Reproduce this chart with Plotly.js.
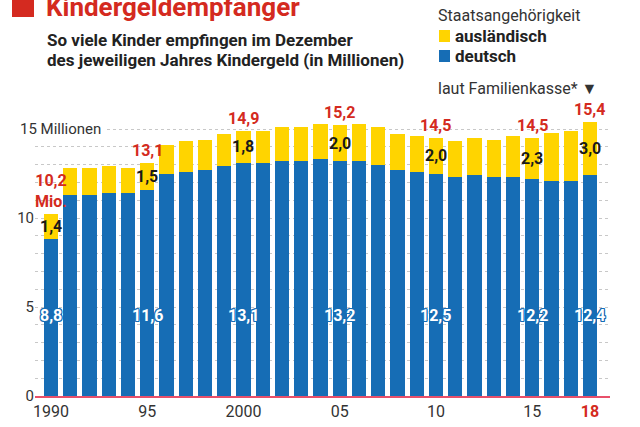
<!DOCTYPE html>
<html><head><meta charset="utf-8">
<script src="https://cdn.plot.ly/plotly-3.0.1.min.js"></script>
<style>html,body{margin:0;padding:0;background:#fff}#chart{width:640px;height:427px}</style>
</head><body><div id="chart"></div>
<script>
const years = [1990,1991,1992,1993,1994,1995,1996,1997,1998,1999,2000,2001,2002,2003,2004,2005,2006,2007,2008,2009,2010,2011,2012,2013,2014,2015,2016,2017,2018];
const deutsch = [8.8,11.3,11.3,11.4,11.4,11.6,12.5,12.6,12.7,12.9,13.1,13.1,13.2,13.2,13.3,13.2,13.2,13.0,12.7,12.6,12.5,12.3,12.4,12.3,12.3,12.2,12.1,12.1,12.4];
const auslaendisch = [1.4,1.5,1.5,1.5,1.4,1.5,1.6,1.7,1.7,1.8,1.8,1.8,1.9,1.9,2.0,2.0,2.1,2.1,2.0,2.0,2.0,2.0,2.1,2.1,2.3,2.3,2.65,2.8,3.0];
const seriesNames = ['deutsch', 'ausländisch'];
const labelYears = [1990,1995,2000,2005,2010,2015,2018];
const xTickVals = [1990,1995,2000,2005,2010,2015,2018];
const xTickText = ['1990','95','2000','05','10','15','<span style="color:#d42a20"><b>18</b></span>'];
const yTickVals = [0,5,10];
const yTickText = ['0','5','10'];

const BLUE = '#166db5', YELLOW = '#ffd400', RED = '#d42a20', DARK = '#222';
const FONT = 'Roboto, "Liberation Sans", sans-serif';
const W = 640, H = 427, L = 35, R = 30, T = 113, B = 31;
const PW = W - L - R, PH = H - T - B;
const px = x => (x - L) / PW;
const py = y => (H - B - y) / PH;
const fmt = v => v.toFixed(1).replace('.', ',');

const traces = [
  {type:'bar', name:seriesNames[0], x:years, y:deutsch, marker:{color:BLUE}, hoverinfo:'skip', showlegend:false},
  {type:'bar', name:seriesNames[1], x:years, y:auslaendisch, marker:{color:YELLOW}, hoverinfo:'skip', showlegend:false}
];

const ann = [];
const shapes = [];
// title
shapes.push({type:'rect', xref:'paper', yref:'paper', x0:px(12), x1:px(34), y0:py(17), y1:py(-2),
  fillcolor:RED, line:{width:0}, layer:'above'});
ann.push({xref:'paper', yref:'paper', x:px(44), y:py(7), xanchor:'left', yanchor:'middle', showarrow:false,
  text:'<b>Kindergeldempfänger</b>', font:{family:FONT, size:26, color:RED}});
ann.push({xref:'paper', yref:'paper', x:px(45), y:py(40), xanchor:'left', yanchor:'middle', showarrow:false,
  text:'<b>So viele Kinder empfingen im Dezember</b>', font:{family:FONT, size:17, color:DARK}});
ann.push({xref:'paper', yref:'paper', x:px(45), y:py(60), xanchor:'left', yanchor:'middle', showarrow:false,
  text:'<b>des jeweiligen Jahres Kindergeld (in Millionen)</b>', font:{family:FONT, size:17, color:DARK}});
// legend
ann.push({xref:'paper', yref:'paper', x:px(436), y:py(15), xanchor:'left', yanchor:'middle', showarrow:false,
  text:'Staatsangehörigkeit', font:{family:FONT, size:16, color:'#333'}});
const legendItems = [{name:seriesNames[1], color:YELLOW, y:36}, {name:seriesNames[0], color:BLUE, y:56}];
legendItems.forEach(it => {
  shapes.push({type:'rect', xref:'paper', yref:'paper', x0:px(439), x1:px(450), y0:py(it.y + 6), y1:py(it.y - 6),
    fillcolor:it.color, line:{width:0}, layer:'above'});
  ann.push({xref:'paper', yref:'paper', x:px(453), y:py(it.y), xanchor:'left', yanchor:'middle', showarrow:false,
    text:'<b>' + it.name + '</b>', font:{family:FONT, size:17, color:DARK}});
});
ann.push({xref:'paper', yref:'paper', x:px(599), y:py(88), xanchor:'right', yanchor:'middle', showarrow:false,
  text:'laut Familienkasse* ▼', font:{family:FONT, size:16, color:'#333'}});
ann.push({xref:'paper', yref:'y', x:px(16), y:15, xanchor:'left', yanchor:'middle', showarrow:false,
  text:'15 Millionen', bgcolor:'#fff', borderpad:3, font:{family:FONT, size:15, color:'#333'}});

labelYears.forEach((yr, k) => {
  const i = years.indexOf(yr);
  const tot = deutsch[i] + auslaendisch[i];
  ann.push({x:yr, y:tot, xref:'x', yref:'y', yanchor:'bottom', yshift:1, showarrow:false,
    text:'<b>' + fmt(tot) + (k === 0 ? '<br>Mio.' : '') + '</b>', font:{family:FONT, size:16, color:RED}});
  ann.push({x:yr, y:deutsch[i] + auslaendisch[i] / 2, xref:'x', yref:'y', yanchor:'middle', showarrow:false,
    text:'<b>' + fmt(auslaendisch[i]) + '</b>', font:{family:FONT, size:16, color:'#1a1a1a'}});
  ann.push({x:yr, y:4.55, xref:'x', yref:'y', yanchor:'middle', showarrow:false,
    text:'<b>' + fmt(deutsch[i]) + '</b>',
    font:{family:FONT, size:16, color:'#fff', shadow:'1px 0 0 '+BLUE+', -1px 0 0 '+BLUE+', 0 1px 0 '+BLUE+', 0 -1px 0 '+BLUE+', 1px 1px 0 '+BLUE+', -1px -1px 0 '+BLUE+', 1px -1px 0 '+BLUE+', -1px 1px 0 '+BLUE}});
});

const layout = {
  width: W, height: H,
  margin: {l:L, r:R, t:T, b:B, pad:0, autoexpand:false},
  paper_bgcolor:'#fff', plot_bgcolor:'#fff',
  barmode:'stack', bargap:0.27,
  font:{family:FONT, color:'#333'},
  showlegend:false,
  xaxis:{range:[1989.17, 2019.04], tickvals:xTickVals, ticktext:xTickText, ticks:'', showgrid:false,
    zeroline:false, showline:true, linecolor:'#e8506a', linewidth:1.5,
    tickfont:{family:FONT, size:16, color:'#333'}, fixedrange:true},
  yaxis:{range:[0, 15.9], tickvals:yTickVals, ticktext:yTickText, ticks:'', showgrid:true,
    gridcolor:'#c8c8c8', griddash:'dot', gridwidth:1, zeroline:false, showline:false,
    minor:{dtick:1, tick0:0, showgrid:true, gridcolor:'#c8c8c8', griddash:'dot', gridwidth:1},
    tickfont:{family:FONT, size:15, color:'#333'}, fixedrange:true},
  annotations: ann,
  shapes: shapes
};

Plotly.newPlot('chart', traces, layout, {displayModeBar:false, staticPlot:true});
</script>
</body></html>
